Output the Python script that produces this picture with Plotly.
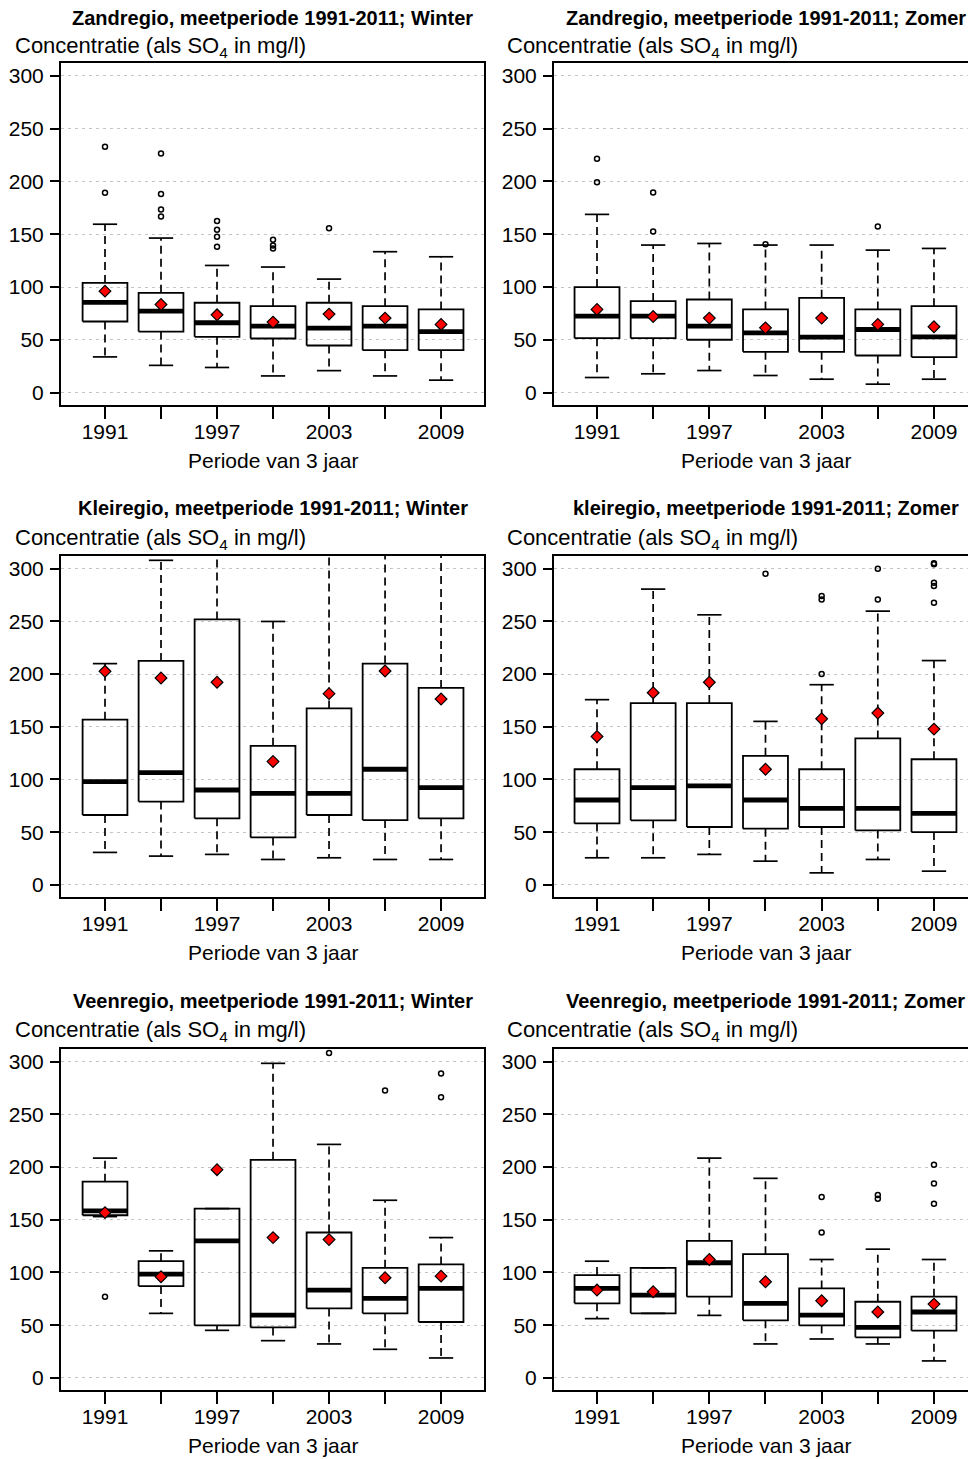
import plotly.graph_objects as go

# ---------------- data ----------------
years = [1991, 1994, 1997, 2000, 2003, 2006, 2009]
label_years = [1991, 1997, 2003, 2009]
tick_labels = ["1991", "1997", "2003", "2009"]
y_ticks = [0, 50, 100, 150, 200, 250, 300]

titles = [
    "Zandregio, meetperiode 1991-2011; Winter",
    "Zandregio, meetperiode 1991-2011; Zomer",
    "Kleiregio, meetperiode 1991-2011; Winter",
    "kleiregio, meetperiode 1991-2011; Zomer",
    "Veenregio, meetperiode 1991-2011; Winter",
    "Veenregio, meetperiode 1991-2011; Zomer",
]
y_label = "Concentratie (als SO<sub>4</sub> in mg/l)"
x_label = "Periode van 3 jaar"

# Zandregio winter
zand_w_low = [34, 26, 24, 16, 21, 16, 12]
zand_w_q1 = [67.5, 58, 53, 51.4, 44.8, 40.4, 40.4]
zand_w_med = [85.5, 77.3, 66.3, 63.1, 61.2, 63.1, 58]
zand_w_q3 = [104, 94.6, 85.2, 82, 85.2, 82, 78.9]
zand_w_high = [159.5, 146.4, 120.5, 119, 107.6, 133.5, 128.7]
zand_w_mean = [96.2, 83.6, 73.8, 66.9, 74.5, 70.7, 64.7]
zand_w_out = [[232.8, 189.3], [226.5, 188, 173.5, 166.9], [162.5, 154.3, 147.6, 138.2],
              [144.8, 139.4, 136.5], [155.8], [], []]

# Zandregio zomer
zand_z_low = [14.5, 18, 21.1, 16.4, 12.9, 8.2, 12.9]
zand_z_q1 = [51.7, 51.7, 50.2, 38.8, 38.8, 35.3, 33.8]
zand_z_med = [72.6, 72.6, 63.1, 56.8, 52.7, 59.9, 53]
zand_z_q3 = [100, 86.8, 88.3, 78.9, 89.9, 78.9, 82]
zand_z_high = [168.8, 139.8, 141.3, 139.8, 139.8, 135, 136.6]
zand_z_mean = [78.9, 72.2, 70.7, 61.5, 70.7, 64.7, 62.5]
zand_z_out = [[221.5, 199.1], [189.6, 152.7], [], [140.5], [], [157.4], []]

# Kleiregio winter
klei_w_low = [30.8, 27.3, 28.9, 24.1, 25.7, 24.1, 24.1]
klei_w_q1 = [66.3, 79, 63.1, 45, 66.3, 61.5, 63.1]
klei_w_med = [98, 106.5, 90, 86.9, 86.9, 109.7, 92.3]
klei_w_q3 = [156.7, 212.5, 251.8, 131.9, 167.4, 209.9, 186.8]
klei_w_high = [209.9, 307.9, 330, 249.9, 335, 340, 330]
klei_w_mean = [202.6, 196.3, 192.2, 117, 181.4, 202.9, 176.3]
klei_w_out = [[], [], [], [], [], [], []]

# Kleiregio zomer
klei_z_low = [25.7, 25.7, 28.9, 22.5, 11.4, 24.1, 13]
klei_z_q1 = [58.3, 61.2, 54.9, 53.3, 54.9, 51.7, 50.1]
klei_z_med = [80.5, 92.3, 93.9, 80.5, 72.6, 72.6, 67.9]
klei_z_q3 = [109.7, 172.5, 172.5, 122.4, 109.7, 138.9, 119.2]
klei_z_high = [175.7, 280.6, 256.2, 155.1, 189.9, 259.7, 212.8]
klei_z_mean = [140.8, 182.3, 192.2, 109.7, 157.6, 163, 147.8]
klei_z_out = [[], [], [], [295.2], [200.1, 274, 270.8], [300, 270.8],
              [304.2, 305.2, 286.7, 283.5, 267.6]]

# Veenregio winter
veen_w_low = [153, 61.2, 45.1, 35.3, 32.2, 27.1, 18.9]
veen_w_q1 = [154.3, 87.1, 49.8, 47.9, 65.9, 61.2, 53]
veen_w_med = [158.5, 98.5, 130, 59.6, 83.3, 75.4, 84.9]
veen_w_q3 = [186.1, 110.7, 160.6, 206.9, 137.9, 104.4, 107.6]
veen_w_high = [208.5, 120.5, 160.6, 298.4, 221.5, 168.5, 133.1]
veen_w_mean = [156.8, 95.9, 197.5, 133.1, 131.2, 95, 96.5]
veen_w_out = [[77], [], [], [], [308.2], [272.6], [288.7, 266.3]]

# Veenregio zomer
veen_z_low = [56.2, 61.2, 59.3, 32.2, 36.9, 32.2, 16.1]
veen_z_q1 = [70.7, 61.2, 77, 54.6, 49.8, 38.5, 44.8]
veen_z_med = [84.9, 78.6, 109.2, 70.7, 59.6, 47.9, 62.5]
veen_z_q3 = [97.5, 104.4, 130, 117.4, 84.9, 72.2, 77]
veen_z_high = [110.7, 104.4, 208.5, 189.3, 112.3, 122.1, 112.3]
veen_z_mean = [83.3, 81.7, 112.3, 91.2, 73.2, 62.5, 70]
veen_z_out = [[], [], [], [], [171.6, 137.9], [173.5, 170], [202.2, 184.5, 165.3]]

panels = [
    (zand_w_low, zand_w_q1, zand_w_med, zand_w_q3, zand_w_high, zand_w_mean, zand_w_out),
    (zand_z_low, zand_z_q1, zand_z_med, zand_z_q3, zand_z_high, zand_z_mean, zand_z_out),
    (klei_w_low, klei_w_q1, klei_w_med, klei_w_q3, klei_w_high, klei_w_mean, klei_w_out),
    (klei_z_low, klei_z_q1, klei_z_med, klei_z_q3, klei_z_high, klei_z_mean, klei_z_out),
    (veen_w_low, veen_w_q1, veen_w_med, veen_w_q3, veen_w_high, veen_w_mean, veen_w_out),
    (veen_z_low, veen_z_q1, veen_z_med, veen_z_q3, veen_z_high, veen_z_mean, veen_z_out),
]

# ---------------- layout geometry ----------------
OFF = 8                      # default page (body) margin
W, H = 976 - OFF, 1459 - OFF
FONT = "Liberation Sans, Arial, sans-serif"
BOX_HW = 1.2      # half box width (years)
CAP_HW = 0.65     # half cap width (years)

col_px = [(61, 484), (554, 976)]
col_range = [[1988.643, 2011.30], [1988.703, 2011.245]]
row_px = [(63, 405), (556, 897), (1049, 1390)]
y_range = [-11.5, 312]
title_py = [18, 508, 1001]
ylab_py = [47, 539, 1031]
xlab_py = [461, 952, 1445]
ylab_px = [13, 505]


def fx(px):
    return (px - OFF) / W


def fy(py):
    return 1 - (py - OFF) / H


fig = go.Figure()
annotations = []
layout = {}

for i, (low, q1, med, q3, high, mean, outs) in enumerate(panels):
    r, c = divmod(i, 2)
    n = i + 1
    xa = "x" if n == 1 else f"x{n}"
    ya = "y" if n == 1 else f"y{n}"

    # whiskers (dashed)
    wx, wy = [], []
    for x, a, b, lo, hi in zip(years, q1, q3, low, high):
        wx += [x, x, None, x, x, None]
        wy += [b, hi, None, a, lo, None]
    fig.add_trace(go.Scatter(x=wx, y=wy, mode="lines", xaxis=xa, yaxis=ya,
                             line=dict(color="black", width=1.7, dash="8px,5px"),
                             hoverinfo="skip"))
    # caps
    cx, cy = [], []
    for x, lo, hi in zip(years, low, high):
        cx += [x - CAP_HW, x + CAP_HW, None, x - CAP_HW, x + CAP_HW, None]
        cy += [hi, hi, None, lo, lo, None]
    fig.add_trace(go.Scatter(x=cx, y=cy, mode="lines", xaxis=xa, yaxis=ya,
                             line=dict(color="black", width=1.7), hoverinfo="skip"))
    # boxes
    bx, by = [], []
    for x, a, b in zip(years, q1, q3):
        bx += [x - BOX_HW, x + BOX_HW, x + BOX_HW, x - BOX_HW, x - BOX_HW, None]
        by += [a, a, b, b, a, None]
    fig.add_trace(go.Scatter(x=bx, y=by, mode="lines", xaxis=xa, yaxis=ya,
                             line=dict(color="black", width=1.8), hoverinfo="skip"))
    # medians
    mx, my = [], []
    for x, m in zip(years, med):
        mx += [x - BOX_HW, x + BOX_HW, None]
        my += [m, m, None]
    fig.add_trace(go.Scatter(x=mx, y=my, mode="lines", xaxis=xa, yaxis=ya,
                             line=dict(color="black", width=4.8), hoverinfo="skip"))
    # outliers
    ox, oy = [], []
    for x, vals in zip(years, outs):
        for v in vals:
            ox.append(x)
            oy.append(v)
    fig.add_trace(go.Scatter(x=ox, y=oy, mode="markers", xaxis=xa, yaxis=ya,
                             marker=dict(symbol="circle-open", size=5, color="black",
                                         line=dict(width=1.5, color="black")),
                             hoverinfo="skip"))
    # means
    fig.add_trace(go.Scatter(x=years, y=mean, mode="markers", xaxis=xa, yaxis=ya,
                             marker=dict(symbol="diamond", size=9, color="#ff0000",
                                         line=dict(width=1.2, color="black")),
                             hoverinfo="skip"))

    x0, x1 = col_px[c]
    y0, y1 = row_px[r]
    xdom = [fx(x0), min(fx(x1), 1.0)]
    ydom = [fy(y1), fy(y0)]
    xkey = "xaxis" if n == 1 else f"xaxis{n}"
    ykey = "yaxis" if n == 1 else f"yaxis{n}"
    layout[xkey] = dict(
        domain=xdom, range=col_range[c], anchor=ya,
        tickmode="array", tickvals=label_years, ticktext=tick_labels,
        ticks="outside", ticklen=12, tickwidth=1.5, tickcolor="black",
        minor=dict(tickmode="array", tickvals=years, ticks="outside", ticklen=12,
                   tickwidth=1.5, tickcolor="black", showgrid=False),
        showgrid=False, zeroline=False,
        showline=True, linecolor="black", linewidth=2, mirror=True,
        tickfont=dict(family=FONT, size=21, color="black"),
        ticklabelstandoff=-5,
    )
    layout[ykey] = dict(
        domain=ydom, range=y_range, anchor=xa,
        tickmode="array", tickvals=y_ticks,
        ticks="outside", ticklen=9, tickwidth=1.5, tickcolor="black",
        showgrid=True, gridcolor="#c4c4c4", gridwidth=1.1, griddash="3px,4px",
        zeroline=False,
        showline=True, linecolor="black", linewidth=2, mirror=(c == 0),
        tickfont=dict(family=FONT, size=21, color="black"),
        ticklabelstandoff=2,
    )

    xc = fx((x0 + (x1 + 1 if c == 1 else x1)) / 2)
    annotations.append(dict(
        text=f"<b>{titles[i]}</b>", x=xc, y=fy(title_py[r]),
        xref="paper", yref="paper", xanchor="center", yanchor="middle",
        showarrow=False, font=dict(family=FONT, size=20, color="black")))
    annotations.append(dict(
        text=y_label, x=fx(ylab_px[c]), y=fy(ylab_py[r]),
        xref="paper", yref="paper", xanchor="left", yanchor="middle",
        showarrow=False, font=dict(family=FONT, size=22, color="black")))
    annotations.append(dict(
        text=x_label, x=xc, y=fy(xlab_py[r]),
        xref="paper", yref="paper", xanchor="center", yanchor="middle",
        showarrow=False, font=dict(family=FONT, size=21, color="black")))

fig.update_layout(
    width=W, height=H,
    margin=dict(l=0, r=0, t=0, b=0),
    paper_bgcolor="white", plot_bgcolor="white",
    showlegend=False,
    annotations=annotations,
    **layout,
)

fig.write_html("out.html")
